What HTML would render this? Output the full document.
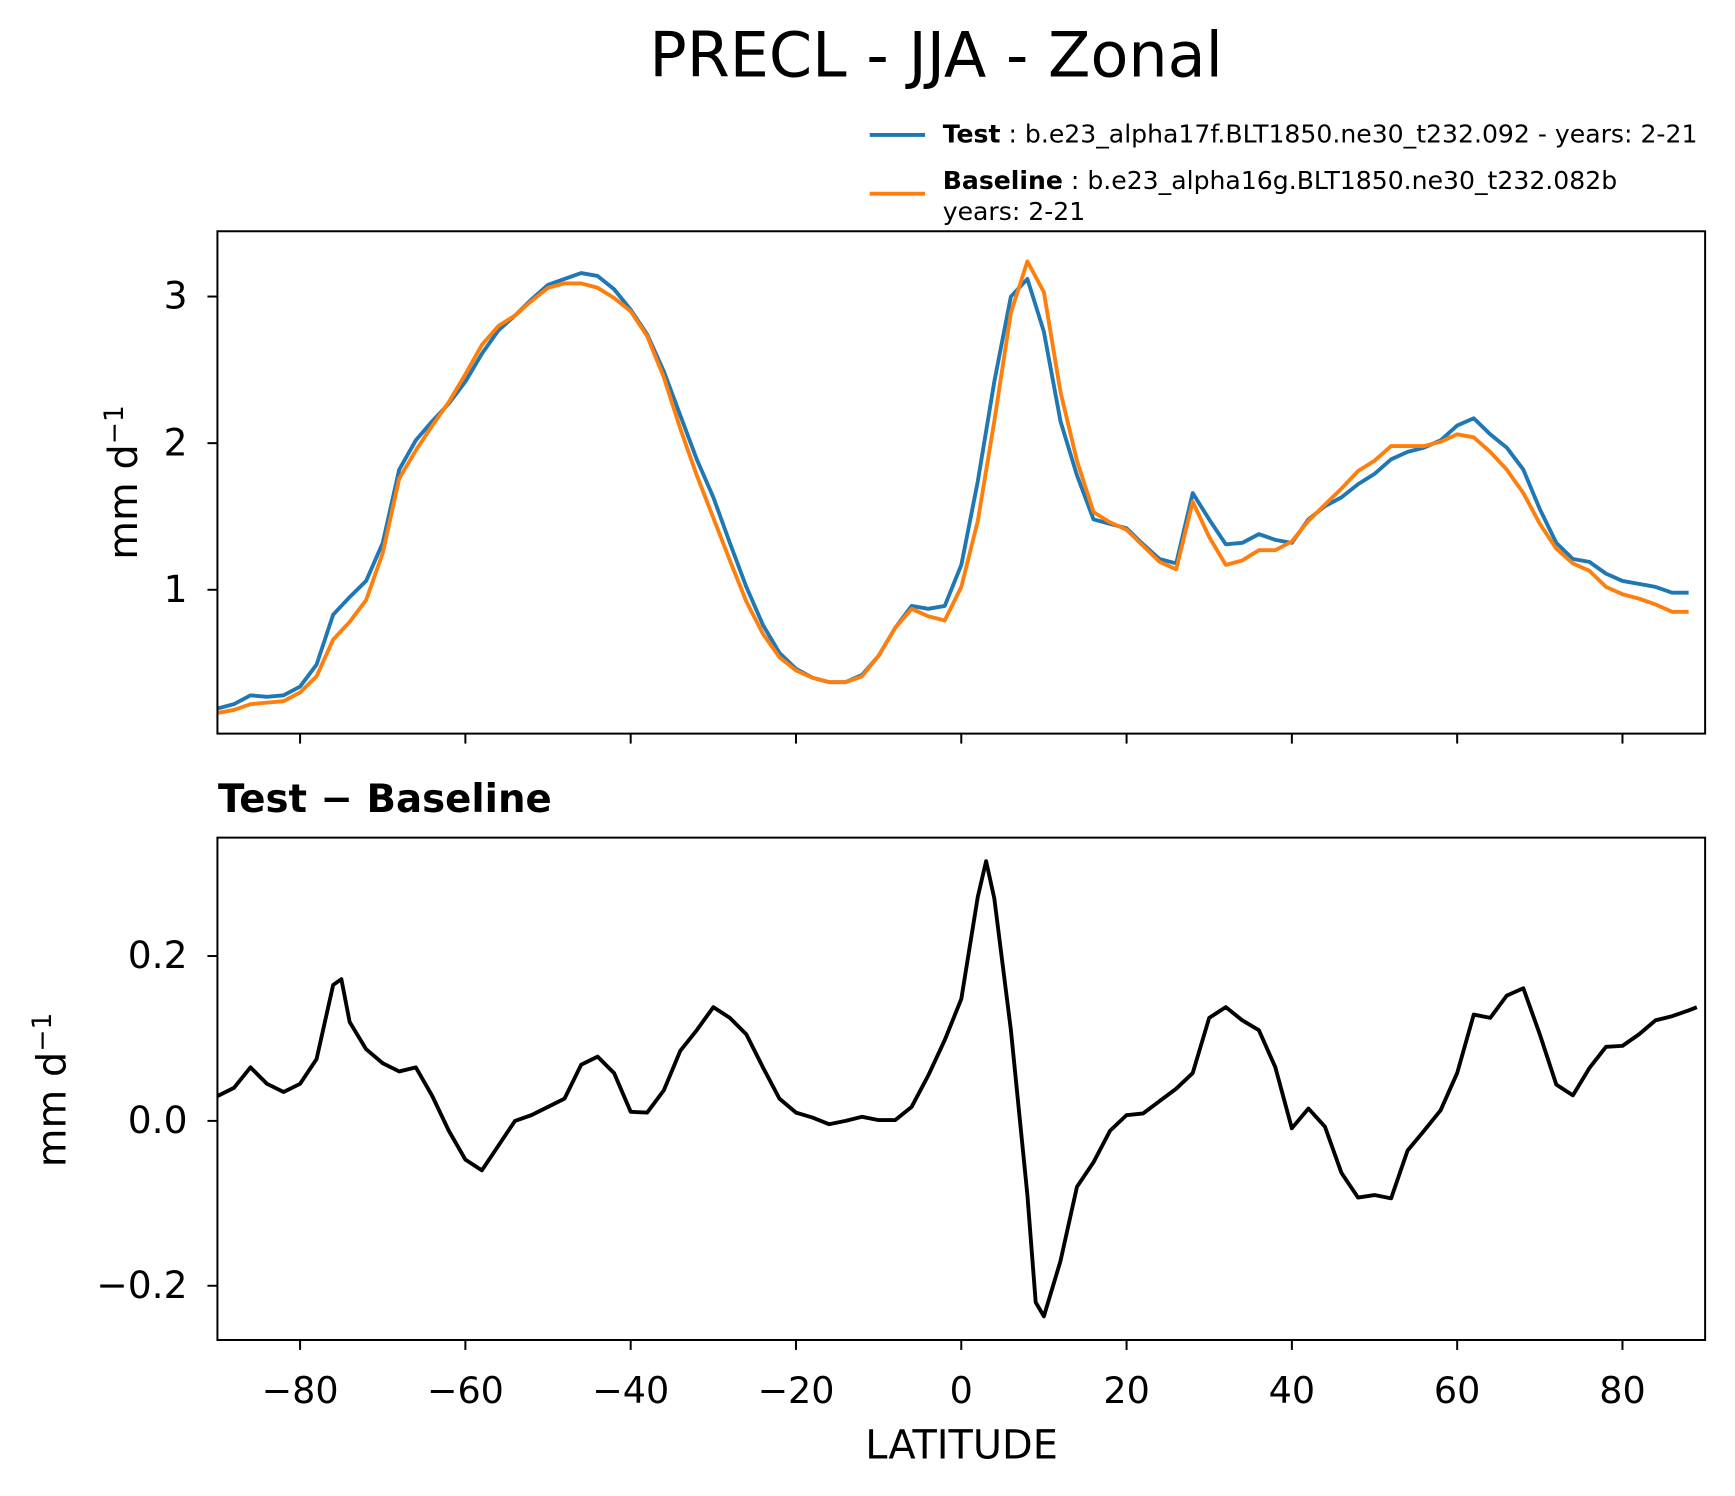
<!DOCTYPE html>
<html><head><meta charset="utf-8"><style>
html,body{margin:0;padding:0;background:#fff;}
svg{display:block;font-family:"DejaVu Sans","Liberation Sans",sans-serif;}
</style></head><body>
<svg id="chart" width="1735" height="1496" viewBox="0 0 1568 1352" preserveAspectRatio="none" xmlns="http://www.w3.org/2000/svg">
<rect width="1568" height="1352" fill="#fff"/>
<text x="846" y="69" font-size="56" text-anchor="middle">PRECL - JJA - Zonal</text>
<g>
<line x1="786" y1="122" x2="836" y2="122" stroke="#1f77b4" stroke-width="3.5"/>
<text x="852" y="129" font-size="22.7"><tspan font-weight="bold">Test</tspan> : b.e23_alpha17f.BLT1850.ne30_t232.092 - years: 2-21</text>
<line x1="786" y1="175" x2="836" y2="175" stroke="#ff7f0e" stroke-width="3.5"/>
<text x="852" y="171" font-size="22.7"><tspan font-weight="bold">Baseline</tspan> : b.e23_alpha16g.BLT1850.ne30_t232.082b</text>
<text x="852" y="199" font-size="22.7">years: 2-21</text>
</g>
<text x="197" y="734" font-size="35" font-weight="bold">Test − Baseline</text>
<text transform="translate(124,436) rotate(-90)" font-size="36" text-anchor="middle">mm d<tspan font-size="24" dy="-13">−1</tspan></text>
<text transform="translate(59,985) rotate(-90)" font-size="36" text-anchor="middle">mm d<tspan font-size="24" dy="-13">−1</tspan></text>
<text x="869" y="1318" font-size="36" text-anchor="middle">LATITUDE</text>
<g id="top"></g><g id="bot"></g>
</svg>
<script>
const lats = [];
for (let l = -90; l <= 88; l += 2) lats.push(l);
const testVals = [0.19,0.22,0.28,0.27,0.28,0.34,0.49,0.83,0.95,1.06,1.32,1.82,2.02,2.15,2.27,2.42,2.61,2.77,2.87,2.98,3.08,3.12,3.16,3.14,3.05,2.91,2.74,2.49,2.19,1.89,1.63,1.32,1.02,0.76,0.57,0.46,0.40,0.37,0.37,0.42,0.55,0.74,0.89,0.87,0.89,1.17,1.74,2.42,3.0,3.12,2.76,2.15,1.78,1.48,1.45,1.42,1.31,1.21,1.18,1.66,1.48,1.31,1.32,1.38,1.34,1.32,1.48,1.57,1.63,1.72,1.79,1.89,1.94,1.97,2.02,2.12,2.17,2.06,1.97,1.82,1.55,1.32,1.21,1.19,1.11,1.06,1.04,1.02,0.98,0.98];
const baseVals = [0.16,0.18,0.22,0.23,0.24,0.30,0.41,0.66,0.78,0.93,1.25,1.76,1.95,2.12,2.28,2.47,2.67,2.80,2.87,2.97,3.06,3.09,3.09,3.06,2.99,2.90,2.73,2.45,2.10,1.78,1.49,1.20,0.92,0.70,0.54,0.45,0.40,0.37,0.37,0.41,0.55,0.74,0.87,0.82,0.79,1.02,1.47,2.15,2.89,3.24,3.03,2.35,1.88,1.53,1.46,1.41,1.30,1.19,1.14,1.60,1.36,1.17,1.20,1.27,1.27,1.33,1.47,1.58,1.69,1.81,1.88,1.98,1.98,1.98,2.01,2.06,2.04,1.94,1.82,1.66,1.45,1.28,1.18,1.13,1.02,0.97,0.94,0.90,0.85,0.85];
const diffLats = [-90,-88,-86,-84,-82,-80,-78,-76,-75,-74,-72,-70,-68,-66,-64,-62,-60,-58,-56,-54,-52,-50,-48,-46,-44,-42,-40,-38,-36,-34,-32,-30,-28,-26,-24,-22,-20,-18,-16,-14,-12,-10,-8,-6,-4,-2,0,2,3,4,6,8,9,10,12,14,16,18,20,22,24,26,28,30,32,34,36,38,40,42,44,46,48,50,52,54,56,58,60,62,64,66,68,70,72,74,76,78,80,82,84,86,88,89];
const diffVals = [0.03,0.04,0.065,0.045,0.035,0.045,0.075,0.165,0.172,0.12,0.087,0.07,0.06,0.065,0.03,-0.012,-0.047,-0.06,-0.03,0.0,0.007,0.017,0.027,0.068,0.078,0.058,0.011,0.01,0.037,0.085,0.11,0.138,0.125,0.105,0.065,0.027,0.01,0.004,-0.004,0.0,0.005,0.001,0.001,0.017,0.055,0.098,0.148,0.272,0.315,0.27,0.11,-0.09,-0.22,-0.237,-0.17,-0.08,-0.05,-0.012,0.007,0.009,0.024,0.039,0.058,0.125,0.138,0.122,0.11,0.065,-0.009,0.015,-0.007,-0.063,-0.093,-0.09,-0.094,-0.036,-0.012,0.013,0.058,0.129,0.125,0.152,0.161,0.105,0.044,0.031,0.064,0.09,0.091,0.105,0.122,0.127,0.134,0.138];
const xTicks = [-80,-60,-40,-20,0,20,40,60,80];
const topYTicks = [1,2,3];
const botYTicks = [-0.2,0.0,0.2];
const botYLabels = ["\u22120.2","0.0","0.2"];

const NS = "http://www.w3.org/2000/svg";
const X0 = 196.5, X1 = 1541;
const xS = l => X0 + (l + 90) * (X1 - X0) / 180;
const topT = 209, topB = 663, botT = 757, botB = 1211;
const yTop = v => 533 - (v - 1) * 132.5;
const yBot = v => 1013 - v * 745;

function el(parent, tag, attrs) {
  const e = document.createElementNS(NS, tag);
  for (const k in attrs) e.setAttribute(k, attrs[k]);
  parent.appendChild(e);
  return e;
}
function pathD(xs, ys, f) {
  return xs.map((l, i) => (i ? "L" : "M") + xS(l).toFixed(1) + "," + f(ys[i]).toFixed(1)).join(" ");
}
function axes(g, top, bot, yTicks, yLabels, yf, showX, prefix) {
  const clip = el(g, "clipPath", {id: prefix + "-clip"});
  el(clip, "rect", {x: X0, y: top, width: X1 - X0, height: bot - top});
  xTicks.forEach(t => {
    const tk = el(g, "line", {x1: xS(t), x2: xS(t), y1: bot, y2: bot + 9, stroke: "#000", "stroke-width": 1.8});
    
    
    if (showX) {
      const tx = el(g, "text", {x: xS(t), y: bot + 57, "font-size": 33, "text-anchor": "middle"});
      tx.textContent = t < 0 ? "\u2212" + Math.abs(t) : String(t);
      
      
    }
  });
  yTicks.forEach((t, i) => {
    const tk = el(g, "line", {x1: X0 - 9, x2: X0, y1: yf(t), y2: yf(t), stroke: "#000", "stroke-width": 1.8});
    
    
    const tx = el(g, "text", {x: X0 - 27, y: yf(t) + 11, "font-size": 34, "text-anchor": "end"});
    tx.textContent = yLabels[i];
    
    
  });
}
const gt = document.getElementById("top");


axes(gt, topT, topB, topYTicks, topYTicks.map(String), yTop, false, "top");
const pt = el(gt, "path", {d: pathD(lats, testVals, yTop), fill: "none", stroke: "#1f77b4", "stroke-width": 3.5, "stroke-linejoin": "round", "clip-path": "url(#top-clip)"});


const pb = el(gt, "path", {d: pathD(lats, baseVals, yTop), fill: "none", stroke: "#ff7f0e", "stroke-width": 3.5, "stroke-linejoin": "round", "clip-path": "url(#top-clip)"});


const ft = el(gt, "rect", {x: X0, y: topT, width: X1 - X0, height: topB - topT, fill: "none", stroke: "#000", "stroke-width": 1.8});



const gb = document.getElementById("bot");


axes(gb, botT, botB, botYTicks, botYLabels, yBot, true, "bot");
const pd = el(gb, "path", {d: pathD(diffLats, diffVals, yBot), fill: "none", stroke: "#000", "stroke-width": 3.5, "stroke-linejoin": "round", "clip-path": "url(#bot-clip)"});


const fb = el(gb, "rect", {x: X0, y: botT, width: X1 - X0, height: botB - botT, fill: "none", stroke: "#000", "stroke-width": 1.8});


</script>
</body></html>
